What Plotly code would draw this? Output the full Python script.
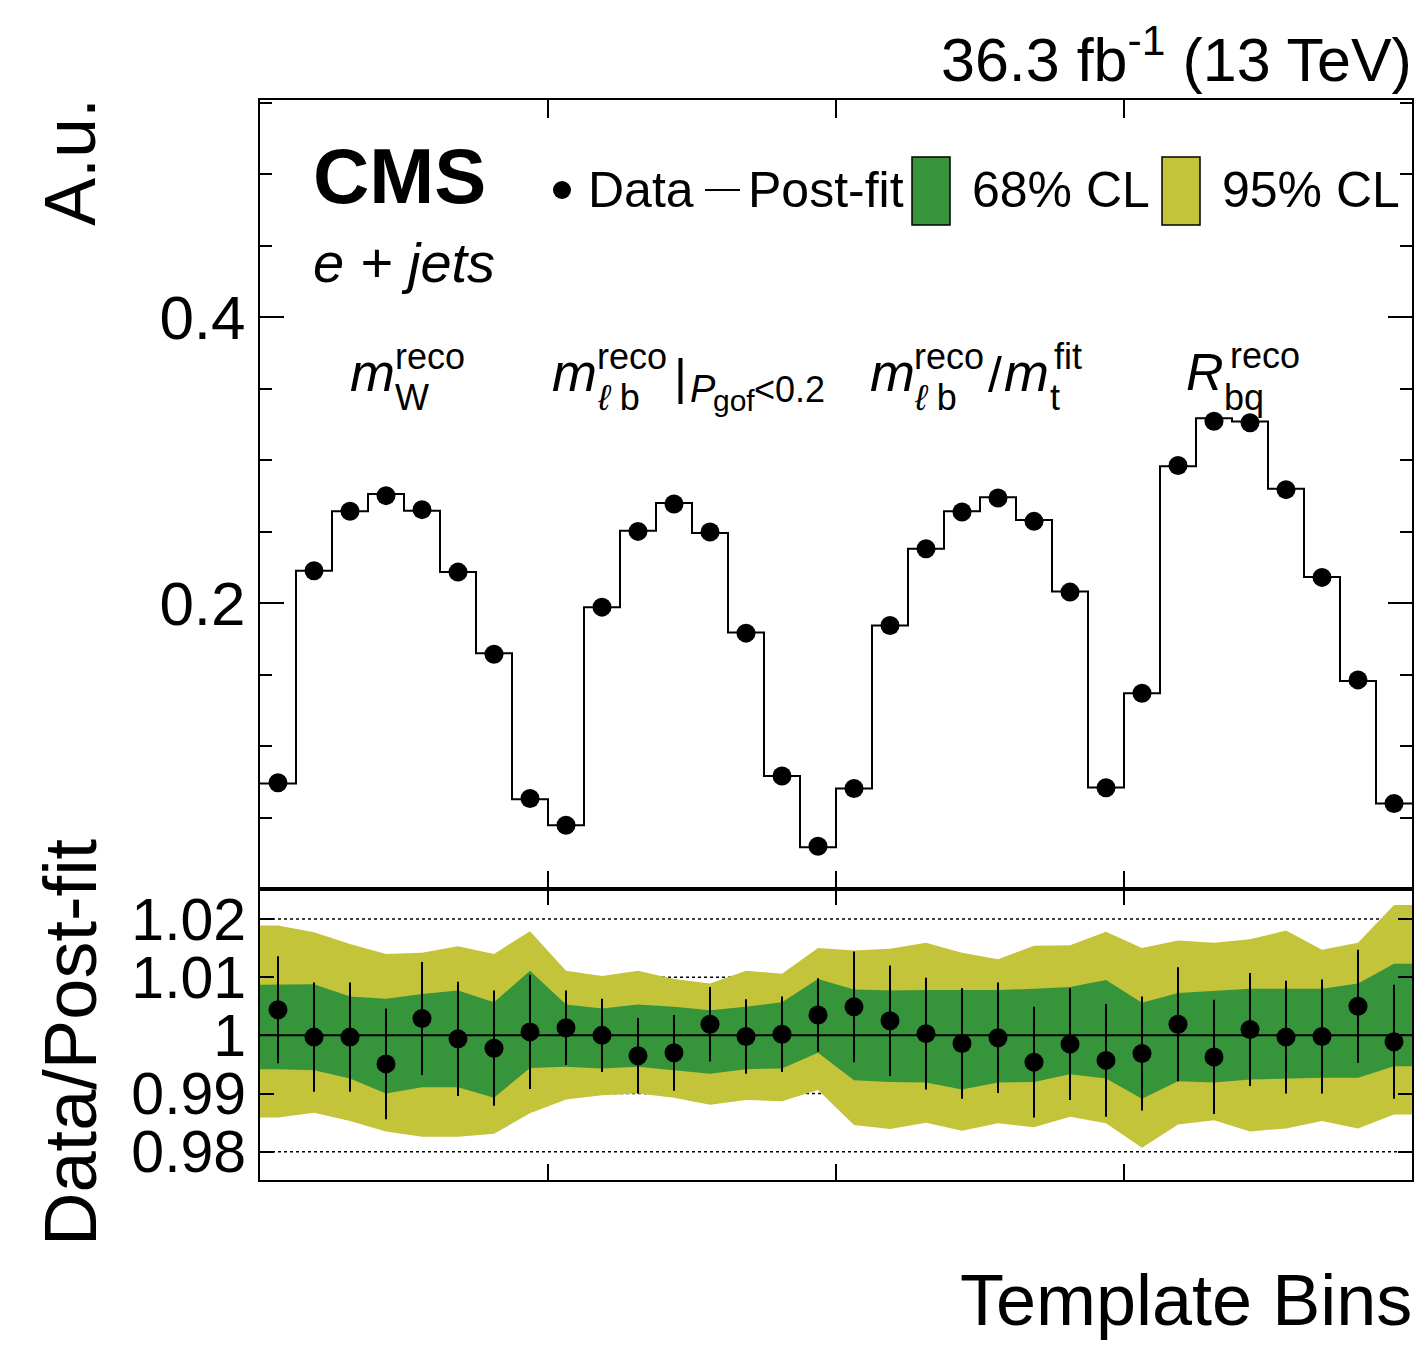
import plotly.graph_objects as go

# ---------------- data ----------------
n_bins = 32
group_edges = [8, 16, 24]

data_vals = [0.0743, 0.2227, 0.2643, 0.2752, 0.2654, 0.2217, 0.1643, 0.0633,
             0.0446, 0.1972, 0.2502, 0.2694, 0.2498, 0.1790, 0.0790, 0.0299,
             0.0703, 0.1843, 0.2381, 0.2638, 0.2736, 0.2572, 0.2077, 0.0708,
             0.1369, 0.2963, 0.3273, 0.3262, 0.2794, 0.2180, 0.1463, 0.0598]

postfit_vals = [0.0738, 0.2227, 0.2643, 0.2764, 0.2647, 0.2217, 0.1650, 0.0628,
                0.0446, 0.1972, 0.2507, 0.2701, 0.2491, 0.1794, 0.0790, 0.0292,
                0.0703, 0.1843, 0.2381, 0.2643, 0.2741, 0.2582, 0.2082, 0.0710,
                0.1369, 0.2958, 0.3294, 0.3271, 0.2801, 0.2182, 0.1456, 0.0598]

ratio_vals = [1.0044, 0.9997, 0.9997, 0.9951, 1.0029, 0.9994, 0.9978, 1.0006,
              1.0013, 1.0000, 0.9965, 0.9970, 1.0019, 0.9998, 1.0002, 1.0035,
              1.0049, 1.0025, 1.0003, 0.9986, 0.9996, 0.9954, 0.9985, 0.9957,
              0.9969, 1.0019, 0.9963, 1.0010, 0.9997, 0.9998, 1.0050, 0.9989]

ratio_errs = [0.0092, 0.0094, 0.0094, 0.0095, 0.0097, 0.0098, 0.0099, 0.0098,
              0.0064, 0.0063, 0.0065, 0.0065, 0.0064, 0.0064, 0.0065, 0.0063,
              0.0095, 0.0095, 0.0096, 0.0095, 0.0095, 0.0095, 0.0096, 0.0097,
              0.0098, 0.0098, 0.0098, 0.0097, 0.0097, 0.0098, 0.0097, 0.0098]

band95_up = [1.0189, 1.0177, 1.0157, 1.0140, 1.0142, 1.0153, 1.0140, 1.0179,
             1.0111, 1.0102, 1.0111, 1.0097, 1.0089, 1.0111, 1.0106, 1.0150,
             1.0146, 1.0149, 1.0159, 1.0142, 1.0131, 1.0154, 1.0155, 1.0178,
             1.0150, 1.0163, 1.0159, 1.0165, 1.0180, 1.0147, 1.0159, 1.0224]
band68_up = [1.0087, 1.0088, 1.0067, 1.0063, 1.0071, 1.0077, 1.0057, 1.0111,
             1.0053, 1.0046, 1.0053, 1.0049, 1.0043, 1.0049, 1.0057, 1.0097,
             1.0079, 1.0077, 1.0078, 1.0078, 1.0078, 1.0080, 1.0083, 1.0095,
             1.0056, 1.0073, 1.0077, 1.0080, 1.0080, 1.0080, 1.0089, 1.0123]
band68_dn = [0.9942, 0.9940, 0.9926, 0.9900, 0.9911, 0.9911, 0.9893, 0.9944,
             0.9946, 0.9943, 0.9946, 0.9940, 0.9934, 0.9942, 0.9943, 0.9970,
             0.9923, 0.9920, 0.9919, 0.9907, 0.9919, 0.9920, 0.9933, 0.9926,
             0.9891, 0.9921, 0.9919, 0.9924, 0.9926, 0.9927, 0.9927, 0.9947]
band95_dn = [0.9859, 0.9867, 0.9853, 0.9835, 0.9826, 0.9826, 0.9831, 0.9866,
             0.9890, 0.9897, 0.9900, 0.9893, 0.9881, 0.9889, 0.9887, 0.9906,
             0.9846, 0.9839, 0.9850, 0.9836, 0.9849, 0.9842, 0.9860, 0.9849,
             0.9807, 0.9847, 0.9854, 0.9835, 0.9840, 0.9853, 0.9840, 0.9864]

top_ytick_vals = [0.2, 0.4]
top_ytick_text = ["0.2", "0.4"]
ratio_ytick_vals = [0.98, 0.99, 1.0, 1.01, 1.02]
ratio_ytick_text = ["0.98", "0.99", "1", "1.01", "1.02"]
ratio_ref_lines = [0.98, 0.99, 1.01, 1.02]

# ---------------- style ----------------
FONT = "Liberation Sans, Arial, Helvetica, sans-serif"
GREEN = "rgb(54,148,58)"
YELLOW = "rgb(196,196,58)"
W, H = 1425, 1346
ML, MR, MT, MB = 260, 13, 100, 166
PW, PH = W - ML - MR, H - MT - MB
SPLIT = 889  # pixel y of the boundary between panels


def PX(x):
    return (x - ML) / PW


def PY(y):
    return (H - MB - y) / PH


centers = [i + 0.5 for i in range(n_bins)]
edges = list(range(n_bins + 1))

fig = go.Figure()

# ---- top panel ----
fig.add_trace(go.Scatter(x=edges, y=postfit_vals + [postfit_vals[-1]],
                         mode="lines", line=dict(shape="hv", color="black", width=2),
                         xaxis="x", yaxis="y", showlegend=False, hoverinfo="skip"))
fig.add_trace(go.Scatter(x=centers, y=data_vals, mode="markers",
                         marker=dict(color="black", size=19),
                         xaxis="x", yaxis="y", showlegend=False))

# ---- ratio panel ----
bx = [0] + centers + [n_bins]


def ext(v):
    return [v[0]] + list(v) + [v[-1]]


fig.add_trace(go.Scatter(x=bx, y=ext(band95_dn), mode="lines", line=dict(width=0, color=YELLOW),
                         xaxis="x2", yaxis="y2", showlegend=False, hoverinfo="skip"))
fig.add_trace(go.Scatter(x=bx, y=ext(band95_up), mode="lines", line=dict(width=0, color=YELLOW),
                         fill="tonexty", fillcolor=YELLOW,
                         xaxis="x2", yaxis="y2", showlegend=False, hoverinfo="skip"))
fig.add_trace(go.Scatter(x=bx, y=ext(band68_dn), mode="lines", line=dict(width=0, color=GREEN),
                         xaxis="x2", yaxis="y2", showlegend=False, hoverinfo="skip"))
fig.add_trace(go.Scatter(x=bx, y=ext(band68_up), mode="lines", line=dict(width=0, color=GREEN),
                         fill="tonexty", fillcolor=GREEN,
                         xaxis="x2", yaxis="y2", showlegend=False, hoverinfo="skip"))
fig.add_trace(go.Scatter(x=[0, n_bins], y=[1, 1], mode="lines", line=dict(color="black", width=2),
                         xaxis="x2", yaxis="y2", showlegend=False, hoverinfo="skip"))
fig.add_trace(go.Scatter(x=centers, y=ratio_vals, mode="markers",
                         marker=dict(color="black", size=19),
                         error_y=dict(type="data", array=ratio_errs, color="black", thickness=2, width=0),
                         xaxis="x2", yaxis="y2", showlegend=False))

top_frac = PY(SPLIT)

axis_common = dict(showline=True, linecolor="black", linewidth=2, mirror="allticks",
                   showgrid=False, zeroline=False, ticks="inside", tickcolor="black")

fig.update_layout(
    width=W, height=H,
    margin=dict(l=ML, r=MR, t=MT, b=MB, pad=0),
    paper_bgcolor="white", plot_bgcolor="rgba(0,0,0,0)",
    font=dict(family=FONT, color="black"),
    xaxis=dict(domain=[0, 1], range=[0, n_bins], anchor="y", tickvals=group_edges,
               showticklabels=False, ticklen=18, tickwidth=2, **axis_common),
    yaxis=dict(domain=[top_frac, 1], range=[0, 0.552], anchor="x",
               tickvals=top_ytick_vals, ticktext=top_ytick_text, ticklen=24, tickwidth=2,
               tickfont=dict(size=62, family=FONT), ticklabelstandoff=0,
               minor=dict(dtick=0.05, tick0=0, ticklen=12, ticks="inside", tickcolor="black", tickwidth=2),
               **axis_common),
    xaxis2=dict(domain=[0, 1], range=[0, n_bins], anchor="y2", matches="x", tickvals=group_edges,
                showticklabels=False, ticklen=16, tickwidth=2, **axis_common),
    yaxis2=dict(domain=[0, top_frac], range=[0.97515, 1.02515], anchor="x2",
                tickvals=ratio_ytick_vals, ticktext=ratio_ytick_text, ticklen=14, tickwidth=2,
                tickfont=dict(size=59, family=FONT), ticklabelstandoff=0,
                **axis_common),
)

shapes = []
for v in ratio_ref_lines:
    shapes.append(dict(type="line", xref="x2 domain", yref="y2", x0=0, x1=1, y0=v, y1=v,
                       line=dict(color="black", width=1.5, dash="dot"), layer="below"))

# legend graphics
shapes.append(dict(type="circle", xref="paper", yref="paper",
                   x0=PX(553), x1=PX(571), y0=PY(199), y1=PY(181),
                   fillcolor="black", line=dict(color="black", width=0)))
shapes.append(dict(type="line", xref="paper", yref="paper",
                   x0=PX(705), x1=PX(740), y0=PY(190), y1=PY(190),
                   line=dict(color="black", width=2)))
shapes.append(dict(type="rect", xref="paper", yref="paper",
                   x0=PX(912), x1=PX(950), y0=PY(225), y1=PY(157),
                   fillcolor=GREEN, line=dict(color="black", width=1.5)))
shapes.append(dict(type="rect", xref="paper", yref="paper",
                   x0=PX(1162), x1=PX(1200), y0=PY(225), y1=PY(157),
                   fillcolor=YELLOW, line=dict(color="black", width=1.5)))
fig.update_layout(shapes=shapes)

ann = []


def text(x, y, s, size, xanchor="left", yanchor="middle", angle=0):
    ann.append(dict(x=PX(x), y=PY(y), xref="paper", yref="paper", text=s, showarrow=False,
                    xanchor=xanchor, yanchor=yanchor, textangle=angle,
                    font=dict(size=size, family=FONT, color="black")))


# header
text(1414, 55, "36.3 fb<sup>-1</sup> (13 TeV)", 61, xanchor="right")
text(311, 176, "<b>CMS</b>", 78)
text(311, 262, "<i>e + jets</i>", 56)

# legend text
text(586, 190, "Data", 50)
text(746, 190, "Post-fit", 50)
text(970, 190, "68% CL", 50)
text(1220, 190, "95% CL", 50)

# group labels
text(348, 372, "<i>m</i>", 54)
text(393, 357, "reco", 36)
text(393, 397, "W", 36)

text(550, 372, "<i>m</i>", 54)
text(595, 357, "reco", 36)
text(595, 397, "<i>ℓ</i> b", 36)
text(672, 377, "|", 50)
text(688, 389, "<i>P</i>", 38)
text(711, 401, "gof", 30)
text(752, 389, "&lt;0.2", 36)

text(868, 372, "<i>m</i>", 54)
text(912, 357, "reco", 36)
text(912, 397, "<i>ℓ</i> b", 36)
text(986, 375, "/", 50)
text(1002, 372, "<i>m</i>", 54)
text(1052, 357, "fit", 36)
text(1048, 397, "t", 36)

text(1184, 372, "<i>R</i>", 52)
text(1228, 355, "reco", 36)
text(1222, 397, "bq", 36)

# axis titles
text(70, 96, "A.u.", 72, xanchor="center", yanchor="top", angle=-90)
text(70, 1042, "Data/Post-fit", 74, xanchor="center", yanchor="middle", angle=-90)
text(1414, 1300, "Template Bins", 72, xanchor="right")

fig.update_layout(annotations=ann)

fig.write_html("out.html")
